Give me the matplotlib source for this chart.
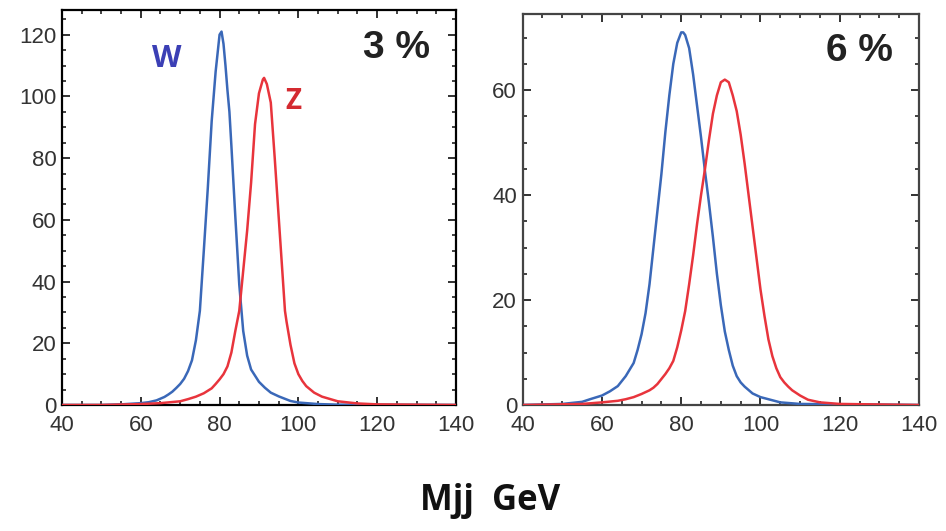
import numpy as np
from matplotlib import pyplot as plt
from matplotlib.ticker import MultipleLocator

# masa invariante (GeV) y cuentas, resolucion 3 %
x_w3 = [40, 50, 55, 60, 62, 64, 66, 67, 68, 69, 70, 71, 72, 73, 74, 75, 76, 77, 78, 79, 80, 80.5,
        81, 81.5, 82, 82.5, 83, 84, 85, 86, 87, 88, 89, 90, 91.5, 93, 95, 98, 100, 105, 110, 140]
y_w3 = [0, 0, 0.2, 0.6, 0.9, 1.5, 2.6, 3.4, 4.3, 5.5, 6.8, 8.5, 11, 14.5, 21, 30.5, 50, 70, 92, 108, 120, 121,
        117, 110, 102, 95, 84, 61, 39, 24, 16, 11.5, 9.5, 7.5, 5.6, 4, 2.8, 1.3, 0.8, 0.3, 0.1, 0]

x_z3 = [40, 50, 60, 65, 70, 72, 74, 76, 78, 79, 80, 81, 82, 83, 84, 85, 86, 87, 88, 89, 90, 91, 91.3,
        92, 93, 94, 95, 96, 96.6, 97, 98, 99, 100, 101, 102, 104, 106, 110, 115, 120, 140]
y_z3 = [0, 0, 0.3, 0.6, 1.2, 1.9, 2.7, 3.8, 5.4, 6.8, 8.3, 10, 12.5, 17, 24, 30.5, 43.5, 56.5, 72, 91, 101, 105.5, 106,
        104, 98, 80, 61, 42, 30.5, 27, 19.5, 13.5, 10, 7.8, 6.1, 4, 2.7, 1.2, 0.5, 0.2, 0]

# resolucion 6 %
x_w6 = [40, 50, 55, 57, 60, 62, 64, 66, 68, 69, 70, 71, 72, 73, 74, 75, 76, 77, 78, 79, 80, 80.5, 81,
        82, 83, 84, 85, 86, 87, 88, 89, 90, 91, 92, 93, 94, 95, 96, 98, 100, 102, 105, 110, 140]
y_w6 = [0, 0.2, 0.6, 1.1, 1.8, 2.6, 3.6, 5.5, 8, 10.5, 13.5, 17.5, 23, 30, 37, 44, 52, 59, 65, 69, 71, 71, 70.5,
        68, 63, 57, 51, 44.5, 38.5, 32, 25, 19, 14, 10.5, 7.5, 5.5, 4.3, 3.5, 2.2, 1.5, 1.1, 0.5, 0.2, 0]

x_z6 = [40, 55, 60, 64, 66, 68, 70, 72, 73, 74, 76, 77, 78, 79, 80, 81, 82, 83, 84, 85, 86, 87, 88, 89, 90, 91,
        92, 93, 94, 95, 96, 97, 98, 99, 100, 101, 102, 103, 104, 105, 106, 107, 108, 110, 112, 115, 120, 140]
y_z6 = [0, 0.2, 0.5, 0.8, 1.1, 1.5, 2.1, 2.8, 3.3, 4.0, 5.9, 7, 8.4, 11, 14.2, 17.9, 23, 28.5, 34.5, 40, 45, 50.5, 55.5, 59, 61.5, 62,
        61.5, 59, 56, 51.5, 46, 40, 34, 28, 22, 17, 12.5, 9.3, 7, 5.3, 4.3, 3.5, 2.8, 1.8, 1.0, 0.5, 0.2, 0]

paneles = [
    # (x_w, y_w, x_z, y_z, ymax, etiqueta)
    (x_w3, y_w3, x_z3, y_z3, 128, "3 %"),
    (x_w6, y_w6, x_z6, y_z6, 74.5, "6 %"),
]

azul = "#3a68b8"
rojo = "#e8343c"

fig = plt.figure(figsize=(9.46, 5.31), dpi=100)
ejes = [fig.add_axes([0.0655, 0.2373, 0.4165, 0.7439]),
        fig.add_axes([0.5525, 0.2373, 0.419, 0.7363])]

for i, (ax, p) in enumerate(zip(ejes, paneles)):
    xw, yw, xz, yz, ymax, etiqueta = p
    ax.plot(xw, yw, color=azul, lw=1.8, zorder=3)
    ax.plot(xz, yz, color=rojo, lw=1.8, zorder=4)
    ax.set_xlim(40, 140)
    ax.set_ylim(0, ymax)
    ax.xaxis.set_major_locator(MultipleLocator(20))
    ax.xaxis.set_minor_locator(MultipleLocator(5))
    ax.yaxis.set_major_locator(MultipleLocator(20))
    ax.yaxis.set_minor_locator(MultipleLocator(5))
    ax.tick_params(which="both", direction="in", top=True, right=True,
                   labelsize=16, labelcolor="#333333", color="#222222")
    ax.tick_params(which="major", length=6, width=1.3, pad=4)
    ax.tick_params(axis="x", which="major", pad=7)
    ax.tick_params(which="minor", length=3, width=1.2)
    for lbl in ax.get_xticklabels() + ax.get_yticklabels():
        lbl.set_family("Liberation Sans")
    col_borde = "black" if i == 0 else "#444444"
    for s in ax.spines.values():
        s.set_linewidth(1.6)
        s.set_color(col_borde)
    ax.text(0.85, 0.905, etiqueta, transform=ax.transAxes, ha="center", va="center",
            fontsize=28, fontweight="bold", family="Liberation Sans", color="#222222")

ejes[0].text(66.6, 112, "W", color="#3b3fb5", fontsize=22, fontweight="bold",
             family="Open Sans", ha="center", va="center")
ejes[0].text(98.8, 98.3, "Z", color="#d42a30", fontsize=20, fontweight="bold",
             family="Open Sans", ha="center", va="center")

fig.text(0.518, 0.04, "Mjj  GeV", ha="center", va="baseline", fontsize=25,
         fontweight="bold", family="Open Sans", color="#111111")

fig.savefig("out.png", dpi=100)
